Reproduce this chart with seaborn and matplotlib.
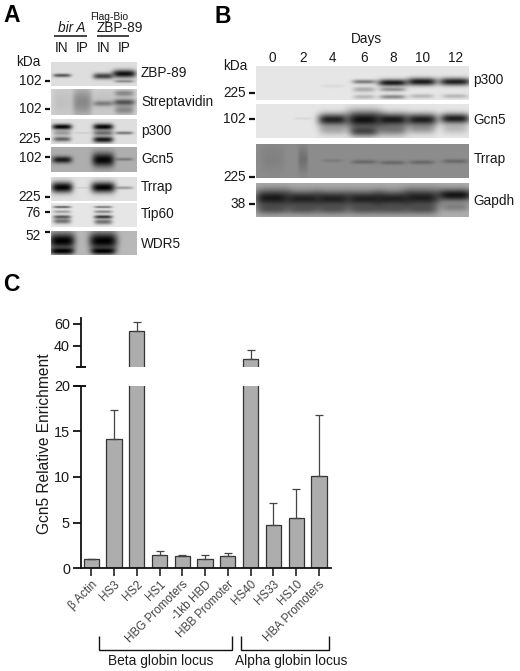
import numpy as np
import pandas as pd
import matplotlib
matplotlib.use("Agg")
import matplotlib.pyplot as plt
from matplotlib.lines import Line2D
import seaborn as sns

W, H = 520, 671

# bar chart data (panel C)
SITES = ['β Actin', 'HS3', 'HS2', 'HS1', 'HBG Promoters', '-1kb HBD', 'HBB Promoter',
         'HS40', 'HS33', 'HS10', 'HBA Promoters']
ENRICHMENT = [1.0, 14.2, 53.6, 1.5, 1.3, 1.0, 1.35, 28.5, 4.7, 5.5, 10.1]
ERROR_UP = [0.0, 3.1, 8.4, 0.35, 0.2, 0.45, 0.35, 7.9, 2.4, 3.2, 6.7]

# blots, panel A: name, y range, background, bands (lane, y, half width, half height, darkness)
LANES_A = [62, 82.3, 103.3, 124.3]
BLOTS_A = {
    'ZBP-89': ((62, 86), 0.87, [(0, .55, 9, .06, .6), (2, .58, 10, .1, .7), (3, .48, 12, .13, .92),
                                (3, .8, 10, .05, .35)]),
    'Streptavidin': ((89, 115), 0.82, [(0, .5, 9, .45, .08), (1, .5, 10, .45, .35), (2, .55, 10, .08, .35),
                                       (2, .5, 10, .4, .08), (3, .5, 11, .1, .6), (3, .15, 10, .1, .35),
                                       (3, .8, 10, .14, .35)]),
    'p300': ((119, 144), 0.87, [(0, .3, 10, .09, .97), (0, .55, 9, .08, .3), (0, .8, 9, .08, .55),
                                (1, .55, 8, .03, .08), (2, .3, 10, .1, .97), (2, .55, 10, .08, .5),
                                (2, .82, 10, .1, .9), (3, .55, 9, .05, .45)]),
    'Gcn5': ((147, 172), 0.68, [(0, .5, 10, .11, .85), (2, .5, 11, .22, .97), (3, .48, 9, .05, .3)]),
    'Trrap': ((177, 201), 0.88, [(0, .42, 11, .18, .98), (1, .44, 7, .03, .08), (2, .42, 12, .18, .98),
                                 (3, .44, 9, .05, .3)]),
    'Tip60': ((203, 227), 0.9, [(0, .15, 9, .04, .55), (0, .35, 9, .05, .3), (0, .57, 9, .06, .6),
                                (0, .75, 9, .09, .5), (2, .15, 9, .04, .45), (2, .35, 9, .05, .4),
                                (2, .57, 9, .06, .75), (2, .78, 9, .09, .5)]),
    'WDR5': ((231, 255), 0.72, [(0, .42, 13, .26, 1.0), (0, .85, 12, .11, 1.0),
                                (2, .42, 14, .28, 1.0), (2, .85, 12, .11, 1.0)]),
}
LABEL_Y_A = [72.7, 101.7, 131, 159.3, 187.3, 214.3, 244]
KDA_A = [('102', 81, 81), ('102', 108.7, 108.7), ('225', 139.3, 139.3), ('102', 158, 156.7),
         ('225', 196.7, 197), ('76', 213, 212.3), ('52', 236, 231.7)]

# blots, panel B
LANES_B = [272, 302.7, 332.7, 364, 392.7, 422, 455.3]
DAYS = ['0', '2', '4', '6', '8', '10', '12']
BLOTS_B = {
    'p300': ((65.7, 100), 0.9, [(2, .6, 12, .04, .05), (3, .47, 12, .05, .45), (3, .7, 11, .06, .25),
                                (3, .92, 11, .05, .2), (4, .5, 15, .08, .88), (4, .7, 13, .05, .35),
                                (4, .92, 13, .05, .4), (5, .47, 15, .09, .88), (5, .9, 12, .05, .2),
                                (6, .47, 16, .09, .85), (6, .9, 13, .05, .2)]),
    'Gcn5': ((104.3, 138.3), 0.9, [(1, .42, 9, .03, .06), (2, .45, 15, .14, .85), (2, .75, 14, .13, .25),
                                   (3, .45, 18, .2, .92), (3, .8, 15, .13, .65), (4, .45, 16, .15, .88),
                                   (4, .75, 15, .15, .45), (5, .45, 16, .14, .86), (5, .72, 14, .13, .3),
                                   (6, .42, 15, .12, .86), (6, .72, 13, .12, .18)]),
    'Trrap': ((144, 178.3), 0.55, [(0, .4, 12, .35, .08), (1, .45, 5, .3, .2), (2, .48, 11, .04, .12),
                                   (3, .52, 13, .05, .25), (4, .54, 13, .05, .25), (5, .53, 13, .05, .25),
                                   (6, .5, 13, .05, .25)]),
    'Gapdh': ((182.7, 216.7), 0.68, [(0, .45, 18, .2, .85), (1, .47, 18, .18, .8), (2, .47, 18, .18, .8),
                                     (3, .47, 18, .18, .8), (4, .47, 18, .18, .8), (5, .44, 18, .2, .82),
                                     (6, .36, 18, .14, .88), (0, .78, 16, .13, .45), (1, .78, 16, .13, .45),
                                     (2, .78, 16, .13, .45), (3, .78, 16, .13, .45), (4, .78, 16, .13, .45),
                                     (5, .78, 16, .13, .45), (6, .72, 14, .1, .25)]),
}
LABEL_Y_B = [80, 120, 159.3, 200.7]
KDA_B = [('225', 93.3), ('102', 119.3), ('225', 176.7), ('38', 204.3)]

sns.set_theme(style='white')
plt.rcParams['font.family'] = ['Liberation Sans', 'DejaVu Sans']
TXT = '#1a1a1a'
LABEL_SIZE = 9.8

fig = plt.figure(figsize=(W / 100, H / 100), dpi=100, facecolor='white')


def px_axes(x0, y0, x1, y1):
    return fig.add_axes([x0 / W, 1 - y1 / H, (x1 - x0) / W, (y1 - y0) / H])


def txt(x, y, s, size=LABEL_SIZE, ha='left', **kw):
    fig.text(x / W, 1 - y / H, s, fontsize=size, ha=ha, va='center', color=kw.pop('color', TXT), **kw)


def line(xs, ys, lw=1.1, color='#111111'):
    fig.add_artist(Line2D([x / W for x in xs], [1 - y / H for y in ys], lw=lw, color=color,
                          solid_capstyle='butt', solid_joinstyle='miter'))


def draw_blot(x0, x1, yr, bg, bands, lanes):
    # build a soft grey picture out of the band table, 2 cells per pixel
    nx, ny = int((x1 - x0) * 2), int((yr[1] - yr[0]) * 2)
    xx, yy = np.meshgrid(np.linspace(x0, x1, nx), np.linspace(0, 1, ny))
    img = np.full((ny, nx), float(bg))
    for lane, y, hw, hh, d in bands:
        shape = np.exp(-((xx - lanes[lane]) / hw) ** 4) * np.exp(-((yy - y) / (hh * 1.3)) ** 2)
        img *= 1 - d * shape
    ax = px_axes(x0, yr[0], x1, yr[1])
    sns.heatmap(img, ax=ax, cmap='gray', vmin=0, vmax=1, cbar=False, xticklabels=False, yticklabels=False)


# panel A
txt(3, 15, 'A', size=16.5, fontweight='bold', color='black')
txt(109, 16.5, 'Flag-Bio', size=7.4, ha='center')
txt(71.7, 28.3, 'bir A', ha='center', style='italic')
txt(120, 28.3, 'ZBP-89', ha='center')
line([54.3, 87.3], [35.7, 35.7])
line([96.7, 129], [35.7, 35.7])
for lx, s in zip(LANES_A, ['IN', 'IP', 'IN', 'IP']):
    txt(lx, 47.7, s, ha='center')
txt(16, 62, 'kDa')
for (name, (yr, bg, bands)), ly in zip(BLOTS_A.items(), LABEL_Y_A):
    draw_blot(50.7, 136.7, yr, bg, bands, LANES_A)
    txt(141, ly, name)
for s, ly, ty in KDA_A:
    txt(41, ly, s, ha='right')
    line([45, 50], [ty, ty], lw=1.6)

# panel B
txt(215, 16.5, 'B', size=16.5, fontweight='bold', color='black')
txt(366, 38.7, 'Days', ha='center')
for lx, s in zip(LANES_B, DAYS):
    txt(lx, 58.3, s, ha='center')
txt(223.5, 66, 'kDa')
for (name, (yr, bg, bands)), ly in zip(BLOTS_B.items(), LABEL_Y_B):
    draw_blot(256, 469.3, yr, bg, bands, LANES_B)
    txt(473.3, ly, name)
for s, ty in KDA_B:
    txt(245.7, ty, s, ha='right')
    line([249, 255], [ty, ty], lw=1.6)

# panel C, broken axis
txt(2.7, 285, 'C', size=16.5, fontweight='bold', color='black')
df = pd.DataFrame({'site': SITES, 'enrichment': ENRICHMENT})
ax_top = px_axes(81, 318.3, 331, 367)
ax_low = px_axes(81, 385.7, 331, 568.3)
for ax, ylim, ticks in [(ax_low, (0, 20), [0, 5, 10, 15, 20]), (ax_top, (20.9, 65), [40, 60])]:
    sns.barplot(data=df, x='site', y='enrichment', ax=ax, color='#adadad', saturation=1, width=0.67,
                edgecolor='#333333', linewidth=0.9, errorbar=None)
    ax.errorbar(range(len(SITES)), ENRICHMENT, yerr=[np.zeros(len(SITES)), ERROR_UP], fmt='none',
                ecolor='#444444', elinewidth=0.9, capsize=3, capthick=0.9)
    ax.set_xlim(-0.45, 10.53)
    ax.set_ylim(*ylim)
    ax.set_yticks(ticks)
    ax.set_xlabel('')
    ax.set_ylabel('')
    ax.patch.set_alpha(0)
    ax.spines[['top', 'right']].set_visible(False)
    ax.spines['left'].set_linewidth(1.3)
    ax.spines['left'].set_color('#111111')
    ax.tick_params(axis='y', left=True, length=5.5, width=1.3, color='#111111', pad=2.5, labelsize=10.4,
                   labelcolor=TXT)
ax_top.spines['bottom'].set_visible(False)
ax_top.tick_params(axis='x', bottom=False, labelbottom=False)
ax_low.spines['bottom'].set_linewidth(1.3)
ax_low.spines['bottom'].set_color('#111111')
ax_low.tick_params(axis='x', bottom=True, length=5.8, width=1.1, color='#111111', pad=1.5)
ax_low.set_xticks(range(len(SITES)))
ax_low.set_xticklabels(SITES, rotation=45, ha='right', rotation_mode='anchor', fontsize=8.4, color='#444444')

# break marks either side of the gap
line([76, 86], [367, 367], lw=1.4)
line([73.5, 86], [385.7, 385.7], lw=1.4)

txt(45, 444, 'Gcn5 Relative Enrichment', size=11.2, ha='center', rotation=90)

line([98.7, 98.7, 232.3, 232.3], [635.7, 649.7, 649.7, 635.7], lw=1.0)
line([241.3, 241.3, 329.3, 329.3], [635.7, 649.7, 649.7, 635.7], lw=1.0)
txt(161, 660.7, 'Beta globin locus', size=9.9, ha='center')
txt(291, 660.7, 'Alpha globin locus', size=9.9, ha='center')

fig.savefig('out.png', dpi=100)
